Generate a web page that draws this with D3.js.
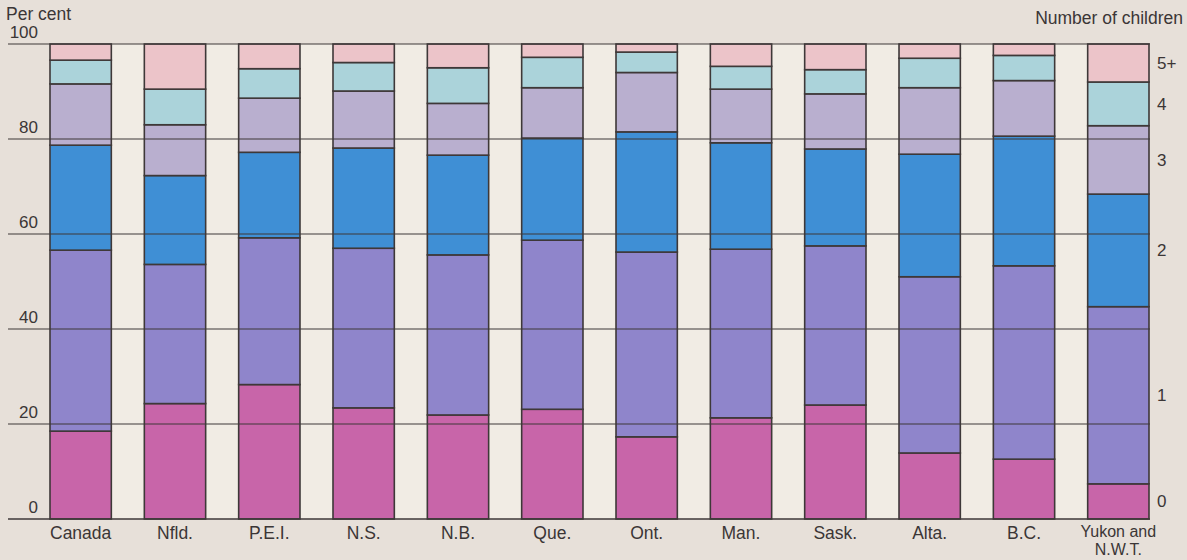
<!DOCTYPE html>
<meta charset="utf-8">
<style>
body { margin: 0; background: #e7e0d9; }
svg { display: block; font-family: "Liberation Sans", Arial, sans-serif; }
.lab { fill: #3b3636; font-size: 17.5px; }
.tick { fill: #3b3636; font-size: 17px; }
</style>
<svg width="1187" height="560"></svg>
<script src="https://d3js.org/d3.v7.min.js"></script>
<script>

// provinces, and the share of families by number of children (per cent)
var regions = ["Canada", "Nfld.", "P.E.I.", "N.S.", "N.B.", "Que.", "Ont.", "Man.", "Sask.", "Alta.", "B.C.", "Yukon and N.W.T."];
var groups = ["0", "1", "2", "3", "4", "5+"];

var none   = [18.5, 24.3, 28.3, 23.4, 21.9, 23.1, 17.3, 21.3, 24.0, 13.9, 12.6, 7.4];
var one    = [38.1, 29.3, 30.9, 33.6, 33.7, 35.6, 38.9, 35.5, 33.5, 37.1, 40.7, 37.3];
var two    = [22.1, 18.7, 18.0, 21.1, 21.0, 21.5, 25.3, 22.4, 20.4, 25.8, 27.3, 23.7];
var three  = [12.9, 10.7, 11.4, 12.0, 10.9, 10.6, 12.5, 11.3, 11.6, 14.0, 11.7, 14.4];
var four   = [5.0, 7.5, 6.2, 6.0, 7.5, 6.4, 4.3, 4.8, 5.1, 6.2, 5.3, 9.2];
var fiveUp = [3.4, 9.5, 5.2, 3.9, 5.0, 2.8, 1.7, 4.7, 5.4, 3.0, 2.4, 8.0];

var yTicks = [0, 20, 40, 60, 80, 100];
var colors = ["#c865a9", "#8f85cb", "#3f8fd5", "#b9afcf", "#abd3da", "#ecc4c9"];

var svg = d3.select("svg");

var table = regions.map(function(r, i) {
  return { region: r, "0": none[i], "1": one[i], "2": two[i], "3": three[i], "4": four[i], "5+": fiveUp[i] };
});

var series = d3.stack().keys(groups)(table);

var x = d3.scaleBand()
    .domain(regions)
    .range([50, 1149])
    .paddingInner(0.35)
    .paddingOuter(0);

var y = d3.scaleLinear()
    .domain([0, 100])
    .range([519, 44]);

var color = d3.scaleOrdinal().domain(groups).range(colors);

// lighter columns between the bars
var gaps = regions.slice(0, -1);
svg.append("g")
  .selectAll("rect")
  .data(gaps)
  .enter().append("rect")
    .attr("x", function(d) { return x(d) + x.bandwidth(); })
    .attr("y", y(100))
    .attr("width", x.step() - x.bandwidth())
    .attr("height", y(0) - y(100))
    .attr("fill", "#f1ece4");

// stacked bars
svg.append("g")
  .selectAll("g")
  .data(series)
  .enter().append("g")
    .attr("fill", function(d) { return color(d.key); })
  .selectAll("rect")
  .data(function(d) { return d; })
  .enter().append("rect")
    .attr("x", function(d) { return x(d.data.region); })
    .attr("y", function(d) { return y(d[1]); })
    .attr("width", x.bandwidth())
    .attr("height", function(d) { return y(d[0]) - y(d[1]); })
    .attr("stroke", "#3e3838")
    .attr("stroke-width", 1.6);

// grid lines over the bars
svg.append("g")
  .selectAll("line")
  .data(yTicks)
  .enter().append("line")
    .attr("x1", 8)
    .attr("x2", 1150)
    .attr("y1", function(d) { return y(d); })
    .attr("y2", function(d) { return y(d); })
    .attr("stroke", "#3e3838")
    .attr("stroke-width", function(d) { return d == 0 ? 1.6 : 1.1; });

svg.append("g")
  .selectAll("text")
  .data(yTicks)
  .enter().append("text")
    .attr("class", "tick")
    .attr("x", 38)
    .attr("y", function(d) { return y(d) - 6; })
    .attr("text-anchor", "end")
    .text(function(d) { return d; });

svg.append("text")
    .attr("class", "lab")
    .attr("x", 6)
    .attr("y", 20)
    .text("Per cent");

svg.append("text")
    .attr("class", "lab")
    .attr("x", 1183)
    .attr("y", 24)
    .attr("text-anchor", "end")
    .text("Number of children");

// right-hand key, centred on the segments of the last bar
var last = regions.length - 1;
svg.append("g")
  .selectAll("text")
  .data(series)
  .enter().append("text")
    .attr("class", "tick")
    .attr("x", 1157)
    .attr("y", function(d) { return y((d[last][0] + d[last][1]) / 2) + 6; })
    .text(function(d) { return d.key; });

// region labels (the last one on two lines)
svg.append("g")
  .selectAll("text")
  .data(regions)
  .enter().append("text")
    .attr("class", "lab")
    .attr("text-anchor", "middle")
    .attr("x", function(d) { return x(d) + x.bandwidth() / 2; })
    .attr("y", function(d) { return d == "Yukon and N.W.T." ? 537 : 539; })
    .style("font-size", function(d) { return d == "Yukon and N.W.T." ? "16px" : null; })
    .each(function(d) {
      var parts = d == "Yukon and N.W.T." ? ["Yukon and", "N.W.T."] : [d];
      var t = d3.select(this);
      parts.forEach(function(p, i) {
        t.append("tspan")
          .attr("x", x(d) + x.bandwidth() / 2)
          .attr("dy", i == 0 ? 0 : 18)
          .text(p);
      });
    });

</script>
